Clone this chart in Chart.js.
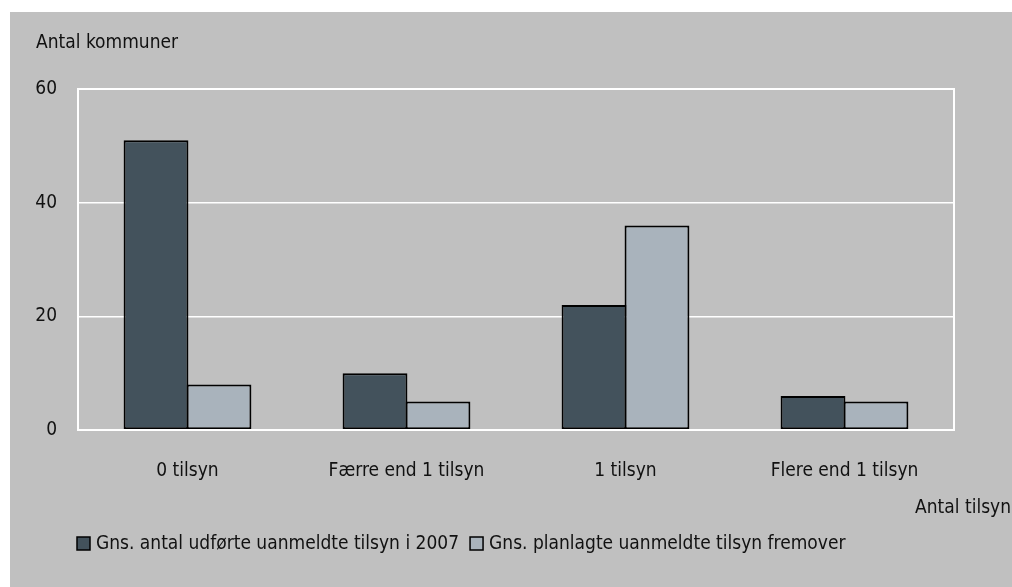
<!DOCTYPE html>
<html>
<head>
<meta charset="utf-8">
<script src="https://cdn.jsdelivr.net/npm/chart.js@4/dist/chart.umd.min.js"></script>
<style>
html,body{margin:0;padding:0;background:#fff;}
#wrap{width:1012px;height:587px;position:relative;}
</style>
</head>
<body>
<div id="wrap"><canvas id="c" width="1012" height="587"></canvas></div>
<script>
const categories = ["0 tilsyn", "Færre end 1 tilsyn", "1 tilsyn", "Flere end 1 tilsyn"];
const seriesNames = ["Gns. antal udførte uanmeldte tilsyn i 2007", "Gns. planlagte uanmeldte tilsyn fremover"];
const udfoerte2007 = [51, 10, 22, 6];
const planlagte = [8, 5, 36, 5];
const yTicks = [0, 20, 40, 60];
const yTitle = "Antal kommuner";
const xTitle = "Antal tilsyn";

const FONT = "'Liberation Sans Narrow', 'DejaVu Sans Condensed', 'Arial Narrow', sans-serif";
const FS = 19;
const colors = ["#43525c", "#a9b3bc"];

const bgPlugin = {
  id: 'bg',
  beforeDraw(chart) {
    const ctx = chart.ctx;
    ctx.save();
    ctx.fillStyle = '#c0c0c0';
    ctx.fillRect(10, 12, chart.width - 10, chart.height - 12);
    ctx.restore();
  },
  afterDatasetsDraw(chart) {
    const ctx = chart.ctx;
    const a = chart.chartArea;
    ctx.save();
    ctx.strokeStyle = '#ffffff';
    ctx.lineWidth = 2;
    ctx.strokeRect(a.left, a.top, a.right - a.left, a.bottom - a.top);
    ctx.restore();
  },
  afterDraw(chart) {
    const ctx = chart.ctx;
    ctx.save();
    ctx.fillStyle = '#111';
    ctx.font = FS + 'px ' + FONT;
    ctx.textBaseline = 'middle';
    ctx.textAlign = 'left';
    ctx.fillText(yTitle, 36, 43);
    ctx.textAlign = 'right';
    ctx.fillText(xTitle, 1011, 508);
    // legend
    ctx.textAlign = 'left';
    let x = 77;
    const y = 544;
    chart.data.datasets.forEach((ds, i) => {
      ctx.fillStyle = ds.backgroundColor;
      ctx.fillRect(x, y - 7, 13, 13);
      ctx.strokeStyle = '#000';
      ctx.lineWidth = 1.5;
      ctx.strokeRect(x, y - 7, 13, 13);
      ctx.fillStyle = '#111';
      ctx.fillText(ds.label, x + 19, y);
      x += 19 + ctx.measureText(ds.label).width + 11;
    });
    ctx.restore();
  }
};

new Chart(document.getElementById('c'), {
  type: 'bar',
  data: {
    labels: categories,
    datasets: [
      { label: seriesNames[0], data: udfoerte2007, backgroundColor: colors[0], borderColor: '#000', borderWidth: 2, borderSkipped: false },
      { label: seriesNames[1], data: planlagte, backgroundColor: colors[1], borderColor: '#000', borderWidth: 2, borderSkipped: false }
    ]
  },
  options: {
    responsive: false,
    animation: false,
    devicePixelRatio: 1,
    layout: { padding: { left: 0, top: 89, right: 58, bottom: 0 } },
    datasets: { bar: { barPercentage: 1.03, categoryPercentage: 0.575 } },
    plugins: { legend: { display: false }, tooltip: { enabled: false } },
    scales: {
      x: {
        grid: { display: false, drawTicks: false },
        border: { display: false },
        ticks: { color: '#111', font: { family: FONT, size: FS }, padding: 30, maxRotation: 0 },
        afterFit(s) { s.height = 157; }
      },
      y: {
        min: 0, max: 60,
        afterBuildTicks(s) { s.ticks = yTicks.map(v => ({ value: v })); },
        grid: { color: '#ffffff', lineWidth: 1.5, drawTicks: false },
        border: { display: false },
        ticks: { color: '#111', font: { family: FONT, size: FS }, padding: 21 },
        afterFit(s) { s.width = 78; }
      }
    }
  },
  plugins: [bgPlugin]
});
</script>
</body>
</html>
